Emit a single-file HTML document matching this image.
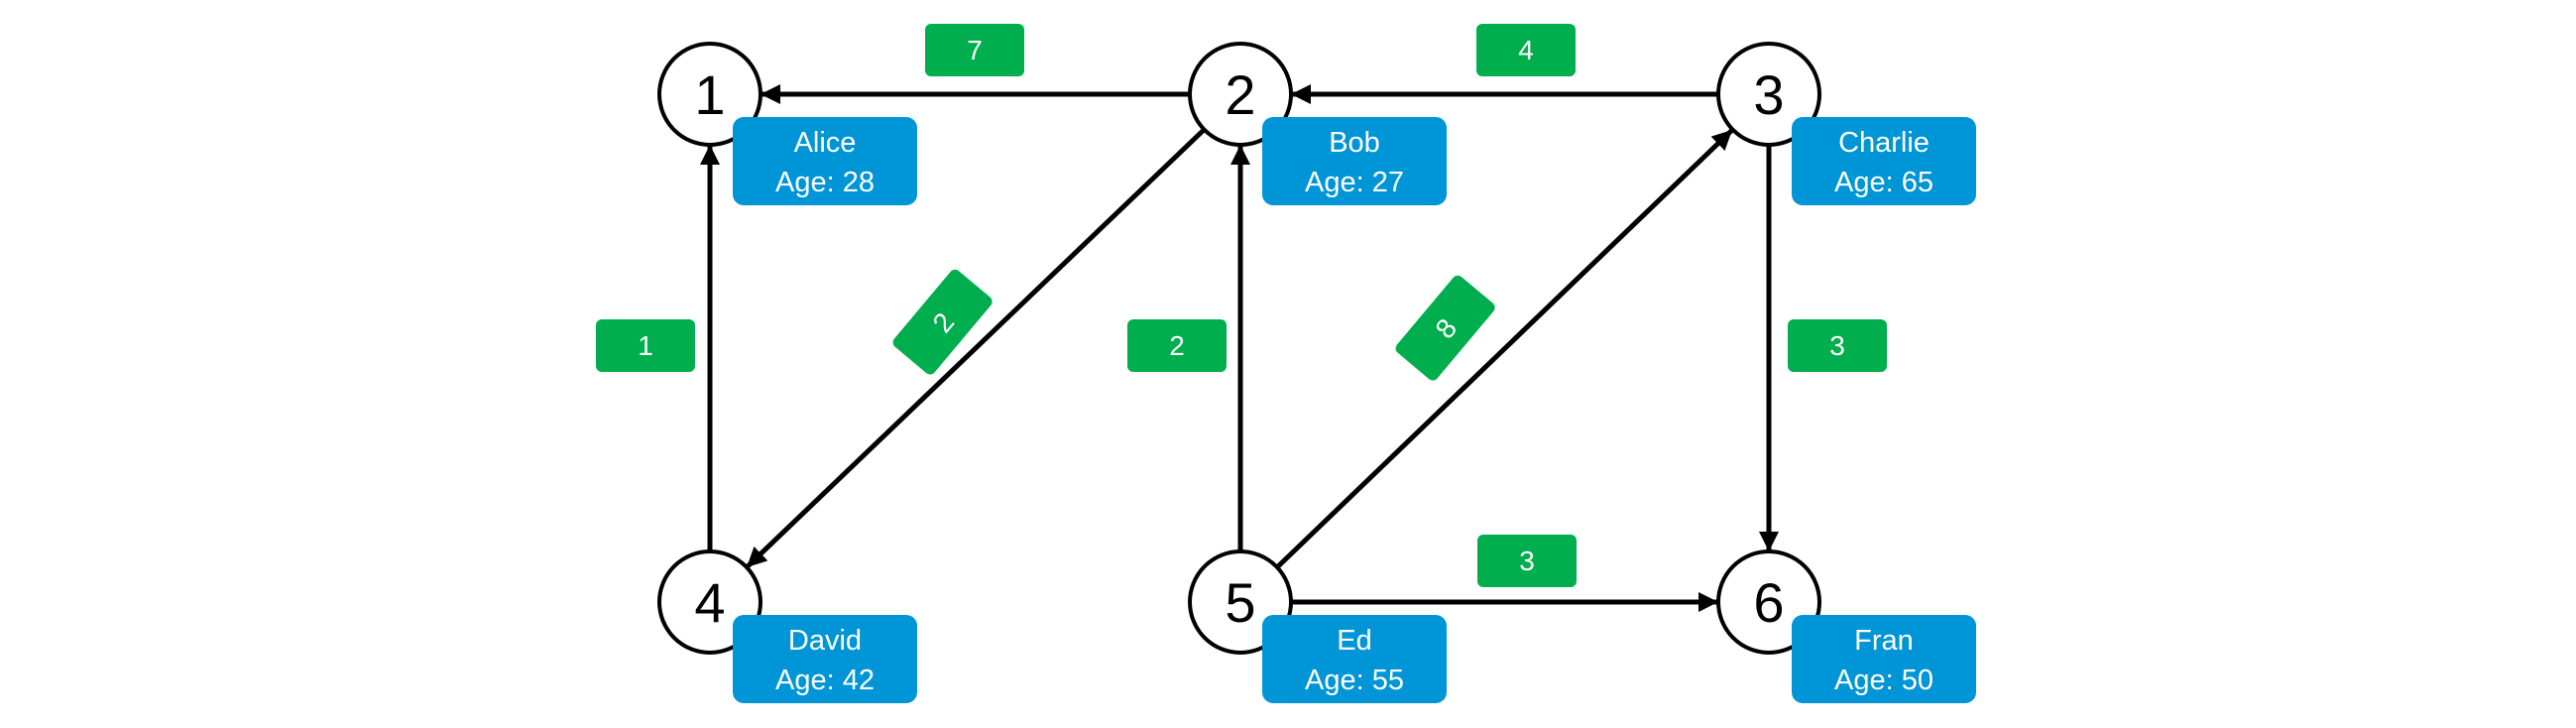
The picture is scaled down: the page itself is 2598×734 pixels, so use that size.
<!DOCTYPE html>
<html><head><meta charset="utf-8"><style>
html,body{margin:0;padding:0;background:#fff}
svg{display:block}
text{font-family:"Liberation Sans",Arial,sans-serif}
</style></head><body>
<svg width="2598" height="734" viewBox="0 0 2598 734" xmlns="http://www.w3.org/2000/svg">
<defs>
<marker id="a" viewBox="0 0 10 10" refX="10" refY="5" markerWidth="4" markerHeight="4" markerUnits="strokeWidth" orient="auto">
<path d="M0,0 L10,5 L0,10 z" fill="#000"/></marker>
</defs>
<g stroke="#000" stroke-width="5" fill="none" marker-end="url(#a)">
<line x1="1200" y1="95" x2="767" y2="95"/>
<line x1="1733" y1="95" x2="1302" y2="95"/>
<line x1="716" y1="556" x2="716" y2="146"/>
<line x1="1251" y1="556" x2="1251" y2="146"/>
<line x1="1214" y1="131" x2="753" y2="572"/>
<line x1="1288" y1="572" x2="1747" y2="131"/>
<line x1="1784" y1="146" x2="1784" y2="556"/>
<line x1="1302" y1="607" x2="1733" y2="607"/>
</g>
<g fill="#fff" stroke="#000" stroke-width="4">
<circle cx="716" cy="95" r="51"/><circle cx="1251" cy="95" r="51"/><circle cx="1784" cy="95" r="51"/>
<circle cx="716" cy="607" r="51"/><circle cx="1251" cy="607" r="51"/><circle cx="1784" cy="607" r="51"/>
</g>
<g font-size="56" text-anchor="middle" fill="#000">
<text x="716" y="115">1</text><text x="1251" y="115">2</text><text x="1784" y="115">3</text>
<text x="716" y="627">4</text><text x="1251" y="627">5</text><text x="1784" y="627">6</text>
</g>
<g fill="#0095d6">
<rect x="739" y="118" width="186" height="89" rx="11"/>
<rect x="1273" y="118" width="186" height="89" rx="11"/>
<rect x="1807" y="118" width="186" height="89" rx="11"/>
<rect x="739" y="620" width="186" height="89" rx="11"/>
<rect x="1273" y="620" width="186" height="89" rx="11"/>
<rect x="1807" y="620" width="186" height="89" rx="11"/>
</g>
<g font-size="29" text-anchor="middle" fill="#fff">
<text x="832" y="153">Alice</text><text x="832" y="193">Age: 28</text>
<text x="1366" y="153">Bob</text><text x="1366" y="193">Age: 27</text>
<text x="1900" y="153">Charlie</text><text x="1900" y="193">Age: 65</text>
<text x="832" y="655">David</text><text x="832" y="695">Age: 42</text>
<text x="1366" y="655">Ed</text><text x="1366" y="695">Age: 55</text>
<text x="1900" y="655">Fran</text><text x="1900" y="695">Age: 50</text>
</g>
<g fill="#00ae4d">
<rect x="933" y="24" width="100" height="53" rx="6"/>
<rect x="1489" y="24" width="100" height="53" rx="6"/>
<rect x="601" y="322" width="100" height="53" rx="6"/>
<rect x="1137" y="322" width="100" height="53" rx="6"/>
<rect x="1803" y="322" width="100" height="53" rx="6"/>
<rect x="1490" y="539" width="100" height="53" rx="6"/>
<rect x="901" y="298" width="100" height="53" rx="6" transform="rotate(-50 951 325)"/>
<rect x="1408" y="304" width="100" height="53" rx="6" transform="rotate(-50 1458 331)"/>
</g>
<g font-size="28" text-anchor="middle" fill="#fff">
<text x="983" y="60">7</text><text x="1539" y="60">4</text>
<text x="651" y="358">1</text><text x="1187" y="358">2</text>
<text x="1853" y="358">3</text><text x="1540" y="575">3</text>
<text x="951" y="335" transform="rotate(-50 951 325)">2</text>
<text x="1458" y="341" transform="rotate(-50 1458 331)">8</text>
</g>
</svg>
</body></html>
